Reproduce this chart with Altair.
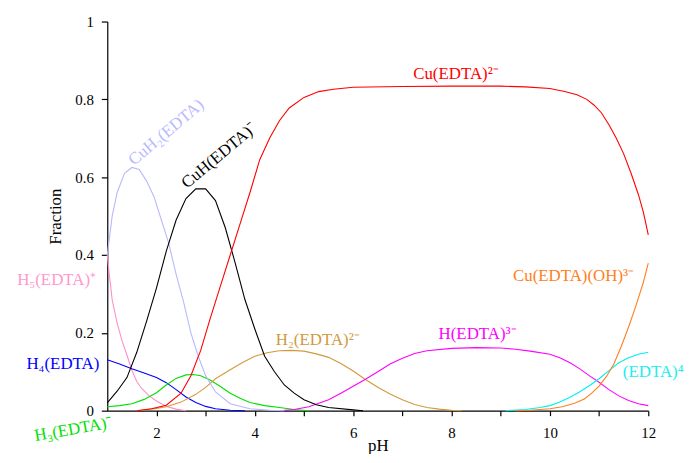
import altair as alt
import pandas as pd

# ---- data ----
species = ["H5(EDTA)+", "H4(EDTA)", "H3(EDTA)-", "H2(EDTA)2-", "H(EDTA)3-", "(EDTA)4-",
           "CuH2(EDTA)", "CuH(EDTA)-", "Cu(EDTA)2-", "Cu(EDTA)(OH)3-"]
colors = ["#ff8fc8", "#0000ff", "#00e000", "#d19a3c", "#ff00ff", "#00f0f0",
          "#b8b8ff", "#000000", "#ff0000", "#ff7f20"]

h5_ph = [1.0, 1.05, 1.1, 1.2, 1.3, 1.4, 1.5, 1.6, 1.7, 1.85, 2.0, 2.2, 2.4, 2.6]
h5_fr = [0.40, 0.34, 0.285, 0.225, 0.18, 0.143, 0.104, 0.075, 0.057, 0.038, 0.025, 0.011, 0.004, 0.0]

h4_ph = [1.0, 1.25, 1.5, 1.75, 2.0, 2.2, 2.4, 2.6, 2.8, 3.0, 3.2, 3.5, 3.8]
h4_fr = [0.131, 0.12, 0.108, 0.097, 0.085, 0.072, 0.054, 0.035, 0.021, 0.011, 0.005, 0.001, 0.0]

h3_ph = [1.0, 1.25, 1.5, 1.75, 2.0, 2.2, 2.4, 2.6, 2.75, 2.9, 3.1, 3.3, 3.5, 3.7, 3.9, 4.2, 4.5, 4.8, 5.1]
h3_fr = [0.01, 0.013, 0.018, 0.029, 0.046, 0.066, 0.083, 0.092, 0.093, 0.09, 0.078, 0.062, 0.045, 0.032,
         0.021, 0.013, 0.008, 0.003, 0.0]

h2_ph = [1.6, 2.0, 2.2, 2.5, 2.8, 3.0, 3.2, 3.5, 3.75, 4.0, 4.25, 4.5, 4.75, 5.0, 5.25, 5.5, 5.75, 6.0,
         6.25, 6.5, 6.75, 7.0, 7.25, 7.5, 7.75, 8.0, 8.2]
h2_fr = [0.0, 0.006, 0.01, 0.022, 0.042, 0.06, 0.082, 0.105, 0.124, 0.14, 0.149, 0.154, 0.155, 0.153,
         0.146, 0.137, 0.121, 0.102, 0.08, 0.06, 0.043, 0.028, 0.016, 0.008, 0.004, 0.001, 0.0]

h1_ph = [4.5, 4.8, 5.1, 5.5, 5.75, 6.0, 6.25, 6.5, 6.75, 7.0, 7.25, 7.5, 8.0, 8.5, 9.0, 9.3, 9.6, 10.0,
         10.2, 10.4, 10.6, 10.8, 11.0, 11.2, 11.4, 11.6, 11.8, 12.0]
h1_fr = [0.0, 0.003, 0.01, 0.028, 0.045, 0.063, 0.081, 0.10, 0.12, 0.135, 0.147, 0.154, 0.16, 0.162,
         0.161, 0.158, 0.153, 0.145, 0.136, 0.124, 0.108, 0.09, 0.073, 0.054, 0.038, 0.026, 0.018, 0.013]

y4_ph = [9.1, 9.5, 9.8, 10.0, 10.2, 10.4, 10.6, 10.8, 11.0, 11.2, 11.4, 11.6, 11.8, 12.0]
y4_fr = [0.0, 0.003, 0.008, 0.013, 0.022, 0.034, 0.048, 0.064, 0.082, 0.103, 0.123, 0.136, 0.145, 0.15]

cuh2_ph = [1.0, 1.1, 1.2, 1.35, 1.5, 1.65, 1.8, 1.95, 2.1, 2.25, 2.4, 2.55, 2.7, 2.85, 3.0, 3.2, 3.5,
           3.9, 4.3, 4.6]
cuh2_fr = [0.40, 0.50, 0.56, 0.61, 0.625, 0.62, 0.59, 0.55, 0.49, 0.43, 0.35, 0.28, 0.20, 0.14, 0.09,
           0.048, 0.018, 0.005, 0.001, 0.0]

cuh_ph = [1.0, 1.2, 1.4, 1.6, 1.8, 2.0, 2.2, 2.4, 2.6, 2.8, 3.0, 3.2, 3.4, 3.6, 3.8, 4.0, 4.2, 4.4, 4.6,
          4.8, 5.0, 5.25, 5.5, 6.0, 6.2]
cuh_fr = [0.02, 0.05, 0.085, 0.15, 0.23, 0.315, 0.41, 0.49, 0.545, 0.57, 0.57, 0.54, 0.47, 0.38, 0.285,
          0.21, 0.14, 0.10, 0.066, 0.045, 0.028, 0.015, 0.008, 0.002, 0.0]

cu_ph = [1.6, 1.9, 2.2, 2.5, 2.7, 2.9, 3.1, 3.3, 3.5, 3.7, 3.9, 4.1, 4.3, 4.5, 4.7, 5.0, 5.3, 5.6, 6.0,
         7.0, 8.0, 9.0, 9.5, 10.0, 10.3, 10.55, 10.75, 10.9, 11.05, 11.2, 11.35, 11.5, 11.65, 11.8,
         11.9, 12.0]
cu_fr = [0.0, 0.005, 0.014, 0.045, 0.09, 0.155, 0.24, 0.32, 0.40, 0.48, 0.56, 0.645, 0.70, 0.745,
         0.778, 0.805, 0.82, 0.826, 0.831, 0.833, 0.834, 0.834, 0.832, 0.828, 0.82, 0.812, 0.80, 0.785,
         0.765, 0.735, 0.70, 0.66, 0.61, 0.555, 0.51, 0.452]

cuoh_ph = [9.3, 9.6, 10.0, 10.25, 10.5, 10.7, 10.85, 11.0, 11.15, 11.3, 11.45, 11.6, 11.75, 11.9, 12.0]
cuoh_fr = [0.0, 0.001, 0.005, 0.01, 0.019, 0.03, 0.045, 0.063, 0.088, 0.12, 0.165, 0.215, 0.27, 0.33,
           0.379]

series = [
    ("H5(EDTA)+", h5_ph, h5_fr), ("H4(EDTA)", h4_ph, h4_fr), ("H3(EDTA)-", h3_ph, h3_fr),
    ("H2(EDTA)2-", h2_ph, h2_fr), ("H(EDTA)3-", h1_ph, h1_fr), ("(EDTA)4-", y4_ph, y4_fr),
    ("CuH2(EDTA)", cuh2_ph, cuh2_fr), ("CuH(EDTA)-", cuh_ph, cuh_fr), ("Cu(EDTA)2-", cu_ph, cu_fr),
    ("Cu(EDTA)(OH)3-", cuoh_ph, cuoh_fr),
]

# curve labels
label_text = ["H₅(EDTA)⁺", "H₄(EDTA)", "H₃(EDTA)⁻", "H₂(EDTA)²⁻", "H(EDTA)³⁻", "(EDTA)⁴",
              "CuH₂(EDTA)", "CuH(EDTA)⁻", "Cu(EDTA)²⁻", "Cu(EDTA)(OH)³⁻"]
label_ph = [-0.03, 0.097, 0.313, 5.28, 8.53, 12.1, 2.20, 3.28, 8.09, 10.48]
label_fr = [0.337, 0.12, -0.048, 0.181, 0.196, 0.0995, 0.715, 0.656, 0.865, 0.347]
label_angle = [0, 0, 350, 0, 0, 0, 320, 320, 0, 0]
label_color = ["#ff99cc", "#0000ff", "#00e000", "#d19a3c", "#ff00ff", "#22eeee",
               "#b8b8ff", "#000000", "#ff0000", "#ff7f20"]

rows = []
for name, xs, ys in series:
    for x, y in zip(xs, ys):
        rows.append({"species": name, "pH": x, "frac": y})
df = pd.DataFrame(rows)

lab = pd.DataFrame({"text": label_text, "pH": label_ph, "frac": label_fr,
                    "angle": label_angle, "color": label_color})

FONT = "Liberation Serif"

xscale = alt.Scale(domain=[1, 12], nice=False, zero=False)
yscale = alt.Scale(domain=[0, 1], nice=False)

lines = alt.Chart(df).mark_line(strokeWidth=1.1, clip=False).encode(
    x=alt.X("pH:Q", scale=xscale, title="pH",
            axis=alt.Axis(values=list(range(2, 13)),
                          labelExpr="datum.value % 2 == 0 ? datum.label : ''",
                          labelFlush=False, labelOverlap=False,
                          tickSize=5, labelPadding=10, titlePadding=-3)),
    y=alt.Y("frac:Q", scale=yscale, title="Fraction",
            axis=alt.Axis(values=[i / 10 for i in range(11)], format=".1~f",
                          labelExpr="round(datum.value * 10) % 2 == 0 ? datum.label : ''",
                          labelFlush=False, labelOverlap=False,
                          tickSize=6, labelPadding=8, titlePadding=10)),
    color=alt.Color("species:N", scale=alt.Scale(domain=species, range=colors), legend=None),
    detail="species:N",
)

labels = alt.Chart(lab).mark_text(font=FONT, fontSize=17, align="center", baseline="middle").encode(
    x=alt.X("pH:Q", scale=xscale),
    y=alt.Y("frac:Q", scale=yscale),
    text="text:N",
    angle=alt.Angle("angle:Q", scale=None),
    color=alt.Color("color:N", scale=None),
)

chart = alt.layer(lines, labels).properties(
    width=545, height=392,
    autosize=alt.AutoSizeParams(type="none"),
    padding={"left": 100, "top": 12, "right": 38, "bottom": 42},
).configure_view(stroke=None).configure_axis(
    grid=False, domainColor="black", tickColor="black", labelColor="black", titleColor="black",
    labelFont=FONT, titleFont=FONT, labelFontSize=15, titleFontSize=17,
    titleFontWeight="normal", domainWidth=1.2, tickWidth=1.2,
)

chart.save("out.html", embed_options={"renderer": "svg", "actions": False})
